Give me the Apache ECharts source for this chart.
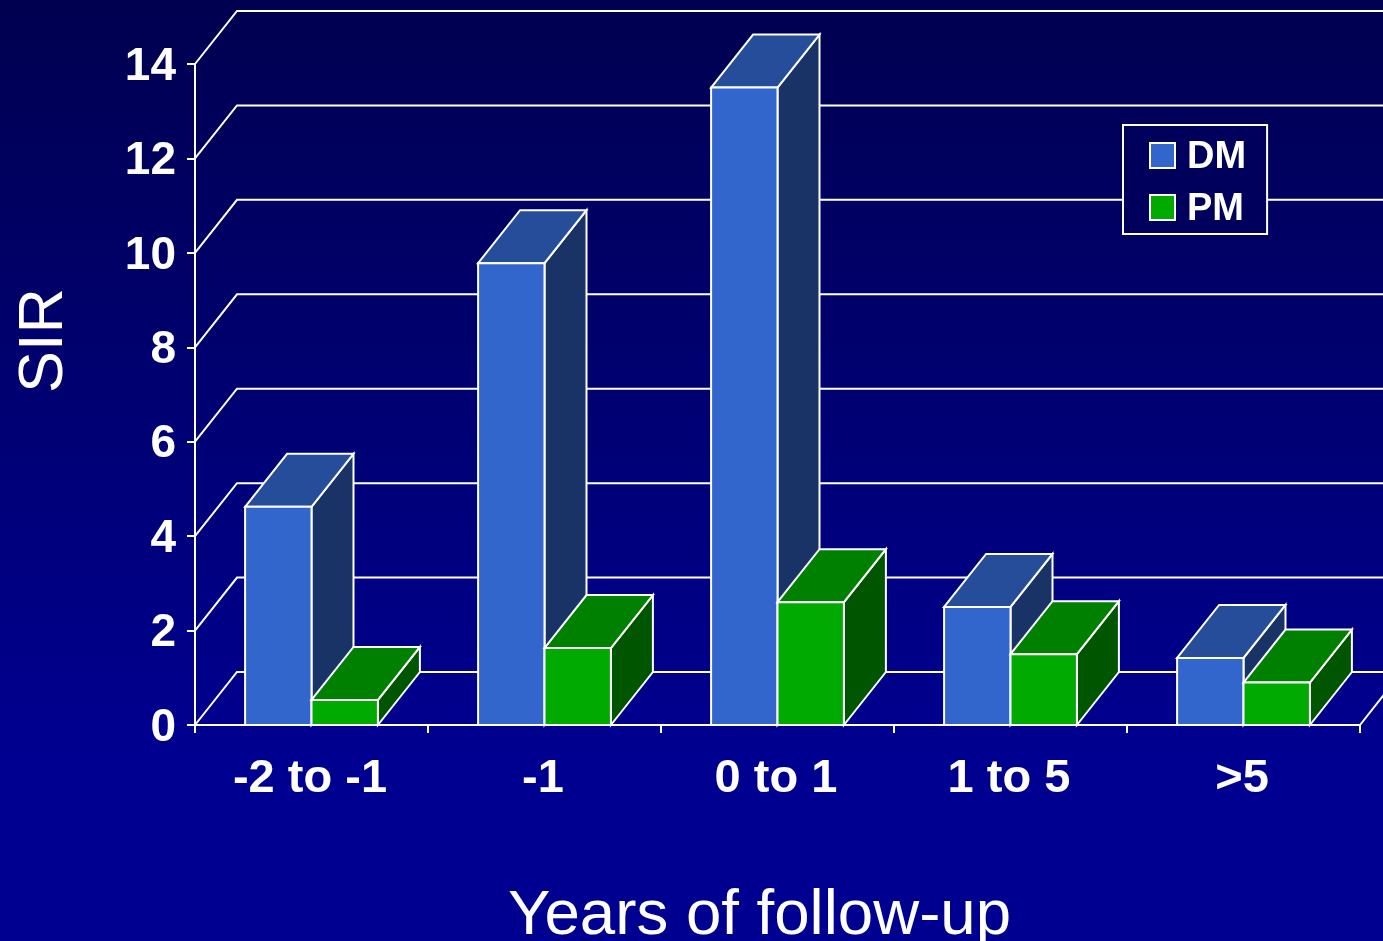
<!DOCTYPE html>
<html>
<head>
<meta charset="utf-8">
<style>html,body{margin:0;padding:0;background:#000090}#chart{width:1383px;height:941px}</style>
<script src="https://cdn.jsdelivr.net/npm/echarts@6/dist/echarts.min.js"></script>
</head>
<body>
<div id="chart"></div>
<script>
// Standardised incidence ratio by time since diagnosis
const categories = ['-2 to -1', '-1', '0 to 1', '1 to 5', '>5'];
const dmValues = [4.62, 9.78, 13.5, 2.5, 1.42];
const pmValues = [0.53, 1.63, 2.6, 1.5, 0.9];
const yTicks = [0, 2, 4, 6, 8, 10, 12, 14];

// Oblique projection used for the pseudo-3D look
const DEPTH_X = 42, DEPTH_Y = -53;
const BAR_SHARE = 0.285;
const LINE = { stroke: '#fff', lineWidth: 2 };

const DM_FACES = { front: '#3366cc', top: '#264d99', side: '#1a3366' };
const PM_FACES = { front: '#00aa00', top: '#008000', side: '#005500' };

function face(points, fill) {
  return { type: 'polygon', shape: { points }, style: { fill, stroke: '#fff', lineWidth: 2, lineJoin: 'miter' } };
}

// One extruded column; side = -1 sits left of the category centre, +1 right
function columnRenderer(faces, side) {
  return function (params, api) {
    const top = api.coord([api.value(0), api.value(1)]);
    const base = api.coord([api.value(0), 0]);
    const w = api.size([1, 0])[0] * BAR_SHARE;
    const x0 = side < 0 ? top[0] - w : top[0];
    const x1 = x0 + w;
    const yT = top[1], yB = base[1];
    return {
      type: 'group',
      children: [
        face([[x1, yB], [x1 + DEPTH_X, yB + DEPTH_Y], [x1 + DEPTH_X, yT + DEPTH_Y], [x1, yT]], faces.side),
        face([[x0, yT], [x0 + DEPTH_X, yT + DEPTH_Y], [x1 + DEPTH_X, yT + DEPTH_Y], [x1, yT]], faces.top),
        face([[x0, yB], [x1, yB], [x1, yT], [x0, yT]], faces.front)
      ]
    };
  };
}

// Side-wall diagonals and back-wall rules for every tick, plus the floor's far corner
function wallRenderer(params, api) {
  const v = api.value(0);
  const left = api.coord([0, v]);
  const size = api.size([1, 0])[0];
  const gridLeft = left[0] - size * 0.5;
  const gridRight = gridLeft + size * categories.length;
  const y = left[1];
  const children = [{
    type: 'polyline',
    shape: { points: [[gridLeft, y], [gridLeft + DEPTH_X, y + DEPTH_Y], [gridRight + DEPTH_X, y + DEPTH_Y]] },
    style: { fill: null, ...LINE }
  }];
  if (v === 0) {
    children.push({
      type: 'line',
      shape: { x1: gridRight, y1: y, x2: gridRight + DEPTH_X, y2: y + DEPTH_Y },
      style: LINE
    });
  }
  return { type: 'group', children };
}

const chart = echarts.init(document.getElementById('chart'));
chart.setOption({
  animation: false,
  backgroundColor: {
    type: 'linear', x: 0, y: 0, x2: 0, y2: 1,
    colorStops: [{ offset: 0, color: '#000050' }, { offset: 0.8, color: '#000090' }, { offset: 1, color: '#000090' }]
  },
  textStyle: { fontFamily: '"Liberation Sans", Arial, sans-serif' },
  grid: { left: 195, right: 23, top: 64, bottom: 216, outerBoundsMode: 'none' },
  xAxis: {
    type: 'category',
    data: categories,
    name: 'Years of follow-up',
    nameLocation: 'middle',
    nameGap: 159,
    nameTextStyle: { color: '#fff', fontSize: 63.6, padding: [0, 36, 0, 0] },
    axisLine: { lineStyle: { color: '#fff', width: 2 } },
    axisTick: { show: true, length: 8, alignWithLabel: false, lineStyle: { color: '#fff', width: 2 } },
    axisLabel: { color: '#fff', fontSize: 47, fontWeight: 'bold', margin: 31, interval: 0, padding: [0, 3, 0, 0] },
    splitLine: { show: false }
  },
  yAxis: {
    type: 'value',
    min: 0, max: 14, interval: 2,
    name: 'SIR',
    nameLocation: 'middle',
    nameRotate: 90,
    nameGap: 119,
    nameTextStyle: { color: '#fff', fontSize: 63, padding: [0, 0, 0, 108] },
    axisLine: { show: true, lineStyle: { color: '#fff', width: 2 } },
    axisTick: { show: true, length: 8, lineStyle: { color: '#fff', width: 2 } },
    axisLabel: {
      formatter: '{tick|{value}}',
      margin: 19,
      rich: { tick: { color: '#fff', fontSize: 46, fontWeight: 'bold', padding: [6, 0, 0, 0] } }
    },
    splitLine: { show: false }
  },
  legend: {
    data: ['DM', 'PM'],
    orient: 'vertical',
    left: 1123, top: 125,
    padding: [14, 21, 5, 26],
    itemWidth: 25, itemHeight: 25, itemGap: 14,
    icon: 'rect',
    backgroundColor: '#00005c',
    borderColor: '#fff', borderWidth: 2,
    selectedMode: false,
    itemStyle: { borderColor: '#fff', borderWidth: 2 },
    formatter: '{key|{name}}',
    textStyle: {
      fontSize: 38,
      rich: { key: { color: '#fff', fontSize: 38, fontWeight: 'bold', padding: [5, 0, 0, 7] } }
    }
  },
  series: [
    {
      type: 'custom', name: 'walls', silent: true, z: 1,
      renderItem: wallRenderer,
      data: yTicks.map(v => [v]),
      encode: { y: 0 }
    },
    {
      type: 'custom', name: 'DM', z: 2,
      itemStyle: { color: DM_FACES.front },
      renderItem: columnRenderer(DM_FACES, -1),
      data: dmValues.map((v, i) => [i, v]),
      encode: { x: 0, y: 1 }
    },
    {
      type: 'custom', name: 'PM', z: 3,
      itemStyle: { color: PM_FACES.front },
      renderItem: columnRenderer(PM_FACES, 1),
      data: pmValues.map((v, i) => [i, v]),
      encode: { x: 0, y: 1 }
    }
  ]
});
</script>
</body>
</html>
